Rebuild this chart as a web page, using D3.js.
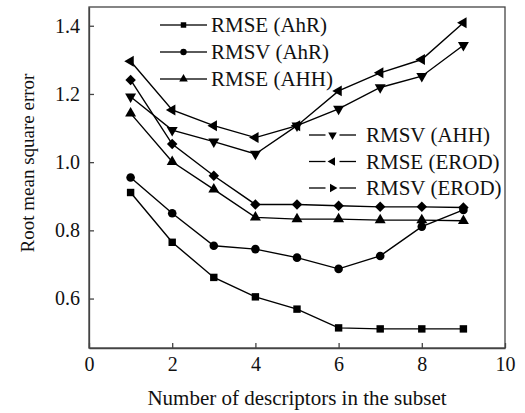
<!DOCTYPE html>
<html>
<head>
<meta charset="utf-8">
<script src="https://cdn.jsdelivr.net/npm/d3@7"></script>
<style>
  body { margin: 0; background: #fff; }
  svg { display: block; font-family: "Liberation Serif", "Times New Roman", serif; }
  .axis path, .axis line { stroke: #444; stroke-width: 1.3px; }
  .axis text { fill: #111; font-size: 20px; font-family: "Liberation Serif", serif; }
</style>
</head>
<body>
<div class="container"></div>
<script>
// values
const nDescriptors = [1, 2, 3, 4, 5, 6, 7, 8, 9];
const rmseAhR  = [0.911, 0.765, 0.662, 0.605, 0.569, 0.514, 0.511, 0.511, 0.511];
const rmsvAhR  = [0.955, 0.850, 0.755, 0.745, 0.720, 0.687, 0.725, 0.811, 0.860];
const rmseAHH  = [1.143, 1.001, 0.920, 0.838, 0.833, 0.833, 0.830, 0.830, 0.828];
const rmsvAHH  = [1.192, 1.094, 1.060, 1.024, 1.107, 1.156, 1.219, 1.252, 1.343];
const rmseEROD = [1.296, 1.153, 1.107, 1.072, 1.107, 1.209, 1.262, 1.301, 1.409];
const rmsvEROD = [1.241, 1.053, 0.960, 0.876, 0.876, 0.872, 0.869, 0.869, 0.867];
const xTicks = [0, 2, 4, 6, 8, 10];
const yTicks = [0.6, 0.8, 1.0, 1.2, 1.4];
const seriesNames = ['RMSE (AhR)', 'RMSV (AhR)', 'RMSE (AHH)', 'RMSV (AHH)', 'RMSE (EROD)', 'RMSV (EROD)'];

const width = 525, height = 413;
const plot = {left: 89, right: 505, top: 7, bottom: 348};

const svg = d3.select('.container').append('svg')
    .attr('width', width)
    .attr('height', height);

const xScale = d3.scaleLinear().domain([0, 10]).range([plot.left, plot.right]);
const yScale = d3.scaleLinear().domain([0.455, 1.455]).range([plot.bottom, plot.top]);

// frame
svg.append('rect')
  .attr('x', plot.left).attr('y', plot.top)
  .attr('width', plot.right - plot.left).attr('height', plot.bottom - plot.top)
  .attr('fill', 'none').attr('stroke', '#444').attr('stroke-width', 1.3);

// axes, ticks pointing inward
svg.append('g')
  .attr('class', 'x axis')
  .attr('transform', `translate(0,${plot.bottom})`)
  .call(d3.axisBottom(xScale).tickValues(xTicks).tickFormat(d3.format('d'))
        .tickSizeInner(-5).tickSizeOuter(0).tickPadding(9));
svg.append('g')
  .attr('class', 'y axis')
  .attr('transform', `translate(${plot.left},0)`)
  .call(d3.axisLeft(yScale).tickValues(yTicks).tickFormat(d3.format('.1f'))
        .tickSizeInner(-5).tickSizeOuter(0).tickPadding(9));

// marker shapes: [symbol type, rotation, size] -- plot of RMSV (EROD) uses diamonds
const plotMarks = [
  [d3.symbolSquare, 0, 55], [d3.symbolCircle, 0, 58], [d3.symbolTriangle, 0, 52],
  [d3.symbolTriangle, 180, 52], [d3.symbolTriangle, -90, 52], [d3.symbolSquare, 45, 55]
];
const legendMarks = [
  [d3.symbolSquare, 0, 30], [d3.symbolCircle, 0, 32], [d3.symbolTriangle, 0, 32],
  [d3.symbolTriangle, 180, 32], [d3.symbolTriangle, -90, 32], [d3.symbolTriangle, 90, 32]
];

const allSeries = [rmseAhR, rmsvAhR, rmseAHH, rmsvAHH, rmseEROD, rmsvEROD];
const line = d3.line().x(d => xScale(d[0])).y(d => yScale(d[1]));

allSeries.forEach((vals, i) => {
  const pts = nDescriptors.map((n, j) => [n, vals[j]]);
  const g = svg.append('g').attr('class', 'series');
  g.append('path')
    .datum(pts)
    .attr('d', line)
    .attr('fill', 'none')
    .attr('stroke', '#000')
    .attr('stroke-width', 1.4);
  const [type, rot, size] = plotMarks[i];
  g.selectAll('path.mark')
    .data(pts)
    .enter().append('path')
    .attr('class', 'mark')
    .attr('d', d3.symbol().type(type).size(size))
    .attr('transform', d => `translate(${xScale(d[0])},${yScale(d[1])}) rotate(${rot})`)
    .attr('fill', '#000');
});

// legends: two groups of three
function addLegend(names, marks, x0, y0, step, gap, textOff) {
  const lg = svg.append('g').attr('class', 'legend');
  names.forEach((name, i) => {
    const y = y0 + i * step;
    const [type, rot, size] = marks[i];
    const mid = x0 + 23.5;
    lg.append('line').attr('x1', x0).attr('x2', mid - gap).attr('y1', y).attr('y2', y)
      .attr('stroke', '#000').attr('stroke-width', 1.3);
    lg.append('line').attr('x1', mid + gap).attr('x2', x0 + 47).attr('y1', y).attr('y2', y)
      .attr('stroke', '#000').attr('stroke-width', 1.3);
    lg.append('path')
      .attr('d', d3.symbol().type(type).size(size))
      .attr('transform', `translate(${mid},${y}) rotate(${rot})`)
      .attr('fill', '#000');
    lg.append('text')
      .attr('x', x0 + textOff)
      .attr('y', y + 7)
      .style('font-size', '21px')
      .attr('fill', '#111')
      .text(name);
  });
}
addLegend(seriesNames.slice(0, 3), legendMarks.slice(0, 3), 160, 25, 27, 0, 51);
addLegend(seriesNames.slice(3), legendMarks.slice(3), 309, 135, 26.5, 7, 57);

// axis titles
svg.append('text')
  .attr('x', (plot.left + plot.right) / 2)
  .attr('y', 405)
  .attr('text-anchor', 'middle')
  .style('font-size', '21px')
  .attr('fill', '#111')
  .text('Number of descriptors in the subset');
svg.append('text')
  .attr('transform', 'translate(34,163) rotate(-90)')
  .attr('text-anchor', 'middle')
  .style('font-size', '19px')
  .attr('fill', '#111')
  .text('Root mean square error');
</script>
</body>
</html>
